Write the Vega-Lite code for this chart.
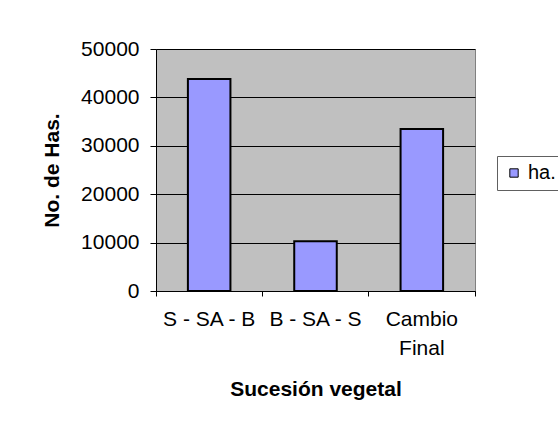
{
  "$schema": "https://vega.github.io/schema/vega-lite/v6.json",
  "autosize": "none",
  "width": 319,
  "height": 242,
  "padding": {"left": 156, "top": 49, "right": 83, "bottom": 144},
  "background": "white",
  "config": {
    "font": "Liberation Sans",
    "view": {"fill": "#C0C0C0", "stroke": "#808080", "strokeWidth": 1}
  },
  "data": {
    "values": [
      {"sucesion": "S - SA - B", "ha": 43800, "serie": "ha."},
      {"sucesion": "B - SA - S", "ha": 10300, "serie": "ha."},
      {"sucesion": "Cambio Final", "ha": 33450, "serie": "ha."}
    ]
  },
  "mark": {"type": "bar", "width": {"band": 0.4}, "stroke": "black", "strokeWidth": 2},
  "encoding": {
    "x": {
      "field": "sucesion",
      "type": "nominal",
      "sort": null,
      "scale": {"paddingInner": 0, "paddingOuter": 0},
      "axis": {
        "title": "Sucesión vegetal",
        "titleFont": "Liberation Sans",
        "titleFontSize": 21,
        "titleFontWeight": "bold",
        "titleColor": "black",
        "titlePadding": 20,
        "labelAngle": 0,
        "labelFontSize": 21,
        "labelColor": "black",
        "labelPadding": 12,
        "labelLineHeight": 29,
        "labelExpr": "datum.label == 'Cambio Final' ? ['Cambio', 'Final'] : datum.label",
        "bandPosition": 1,
        "tickExtra": true,
        "labelOffset": 0,
        "tickSize": 5,
        "tickColor": "black",
        "domainColor": "black",
        "grid": false
      }
    },
    "y": {
      "field": "ha",
      "type": "quantitative",
      "scale": {"domain": [0, 50000], "nice": false},
      "axis": {
        "title": "No. de Has.",
        "titleFont": "Liberation Sans",
        "titleFontSize": 21,
        "titleFontWeight": "bold",
        "titleColor": "black",
        "titlePadding": 18,
        "values": [0, 10000, 20000, 30000, 40000, 50000],
        "format": "d",
        "labelFontSize": 21,
        "labelColor": "black",
        "labelPadding": 11,
        "tickSize": 6,
        "tickColor": "black",
        "domainColor": "black",
        "grid": true,
        "gridColor": "black",
        "gridWidth": 1
      }
    },
    "fill": {
      "field": "serie",
      "type": "nominal",
      "scale": {"range": ["#9999FF"]},
      "legend": {
        "title": null,
        "orient": "none",
        "legendX": 341,
        "legendY": 107,
        "strokeColor": "#606060",
        "padding": 7,
        "symbolType": "square",
        "symbolSize": 70,
        "symbolStrokeColor": "black",
        "symbolStrokeWidth": 1,
        "symbolFillColor": "#9999FF",
        "labelFontSize": 20,
        "labelColor": "black",
        "labelFont": "Liberation Sans"
      }
    }
  }
}
